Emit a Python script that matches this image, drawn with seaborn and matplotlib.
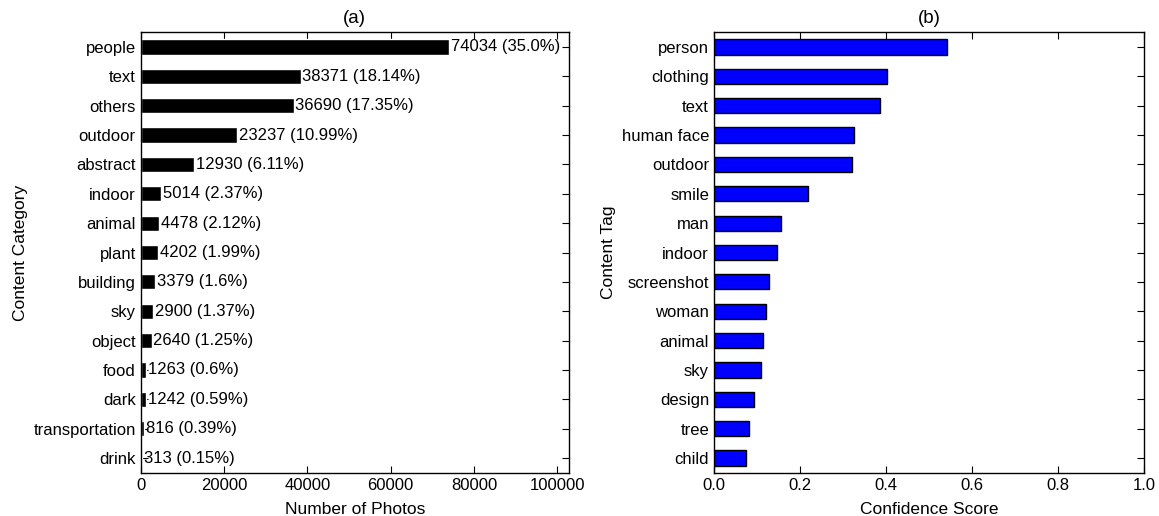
import matplotlib
matplotlib.use("Agg")
import matplotlib.pyplot as plt
import seaborn as sns

# panel (a): photo counts per content category
categories = ["people", "text", "others", "outdoor", "abstract", "indoor", "animal",
              "plant", "building", "sky", "object", "food", "dark", "transportation", "drink"]
counts = [74034, 38371, 36690, 23237, 12930, 5014, 4478, 4202, 3379, 2900, 2640, 1263, 1242, 816, 313]
pcts = ["35.0", "18.14", "17.35", "10.99", "6.11", "2.37", "2.12", "1.99", "1.6", "1.37",
        "1.25", "0.6", "0.59", "0.39", "0.15"]

# panel (b): mean confidence per content tag
tags = ["person", "clothing", "text", "human face", "outdoor", "smile", "man", "indoor",
        "screenshot", "woman", "animal", "sky", "design", "tree", "child"]
scores = [0.541, 0.402, 0.386, 0.326, 0.322, 0.219, 0.157, 0.147, 0.129, 0.120, 0.115,
          0.109, 0.092, 0.081, 0.075]

sns.set_style("ticks")
plt.rcParams.update({
    "font.family": ["Liberation Sans", "DejaVu Sans"],
    "font.size": 12,
    "text.color": "black",
    "axes.labelcolor": "black",
    "xtick.direction": "in",
    "ytick.direction": "in",
    "xtick.top": True,
    "ytick.right": True,
    "xtick.major.size": 5,
    "ytick.major.size": 5,
    "axes.edgecolor": "black",
    "axes.linewidth": 1.0,
    "xtick.color": "black",
    "ytick.color": "black",
    "xtick.labelsize": 12,
    "ytick.labelsize": 12,
})

fig = plt.figure(figsize=(11.59, 5.16), dpi=100)
ax1 = fig.add_axes([0.1213, 0.0839, 0.3697, 0.8535])
ax2 = fig.add_axes([0.616, 0.0839, 0.371, 0.8535])

sns.barplot(x=counts, y=categories, orient="h", color="black", saturation=1,
            width=0.52, ax=ax1)
for i, (c, p) in enumerate(zip(counts, pcts)):
    ax1.text(c + 450, i, f"{c} ({p}%)", va="center", ha="left", fontsize=12, color="black")
ax1.set_xlim(0, 102800)
ax1.set_xticks([0, 20000, 40000, 60000, 80000, 100000])
ax1.set_xlabel("Number of Photos", fontsize=12.5, labelpad=7)
ax1.set_ylabel("Content Category", fontsize=12.5)
ax1.set_title("(a)", fontsize=13.5, pad=7)

sns.barplot(x=scores, y=tags, orient="h", color="#0000ff", saturation=1,
            width=0.52, edgecolor="black", linewidth=1, ax=ax2)
ax2.set_xlim(0, 1.0)
ax2.set_xticks([0.0, 0.2, 0.4, 0.6, 0.8, 1.0])
ax2.set_xlabel("Confidence Score", fontsize=12.5, labelpad=7)
ax2.set_ylabel("Content Tag", fontsize=12.5)
ax2.set_title("(b)", fontsize=13.5, pad=7)

for ax in (ax1, ax2):
    ax.set_ylim(14.5, -0.5)
    for s in ax.spines.values():
        s.set_visible(True)
    ax.tick_params(axis="both", which="both", direction="in", top=True, right=True)

fig.savefig("out.png", dpi=100)
